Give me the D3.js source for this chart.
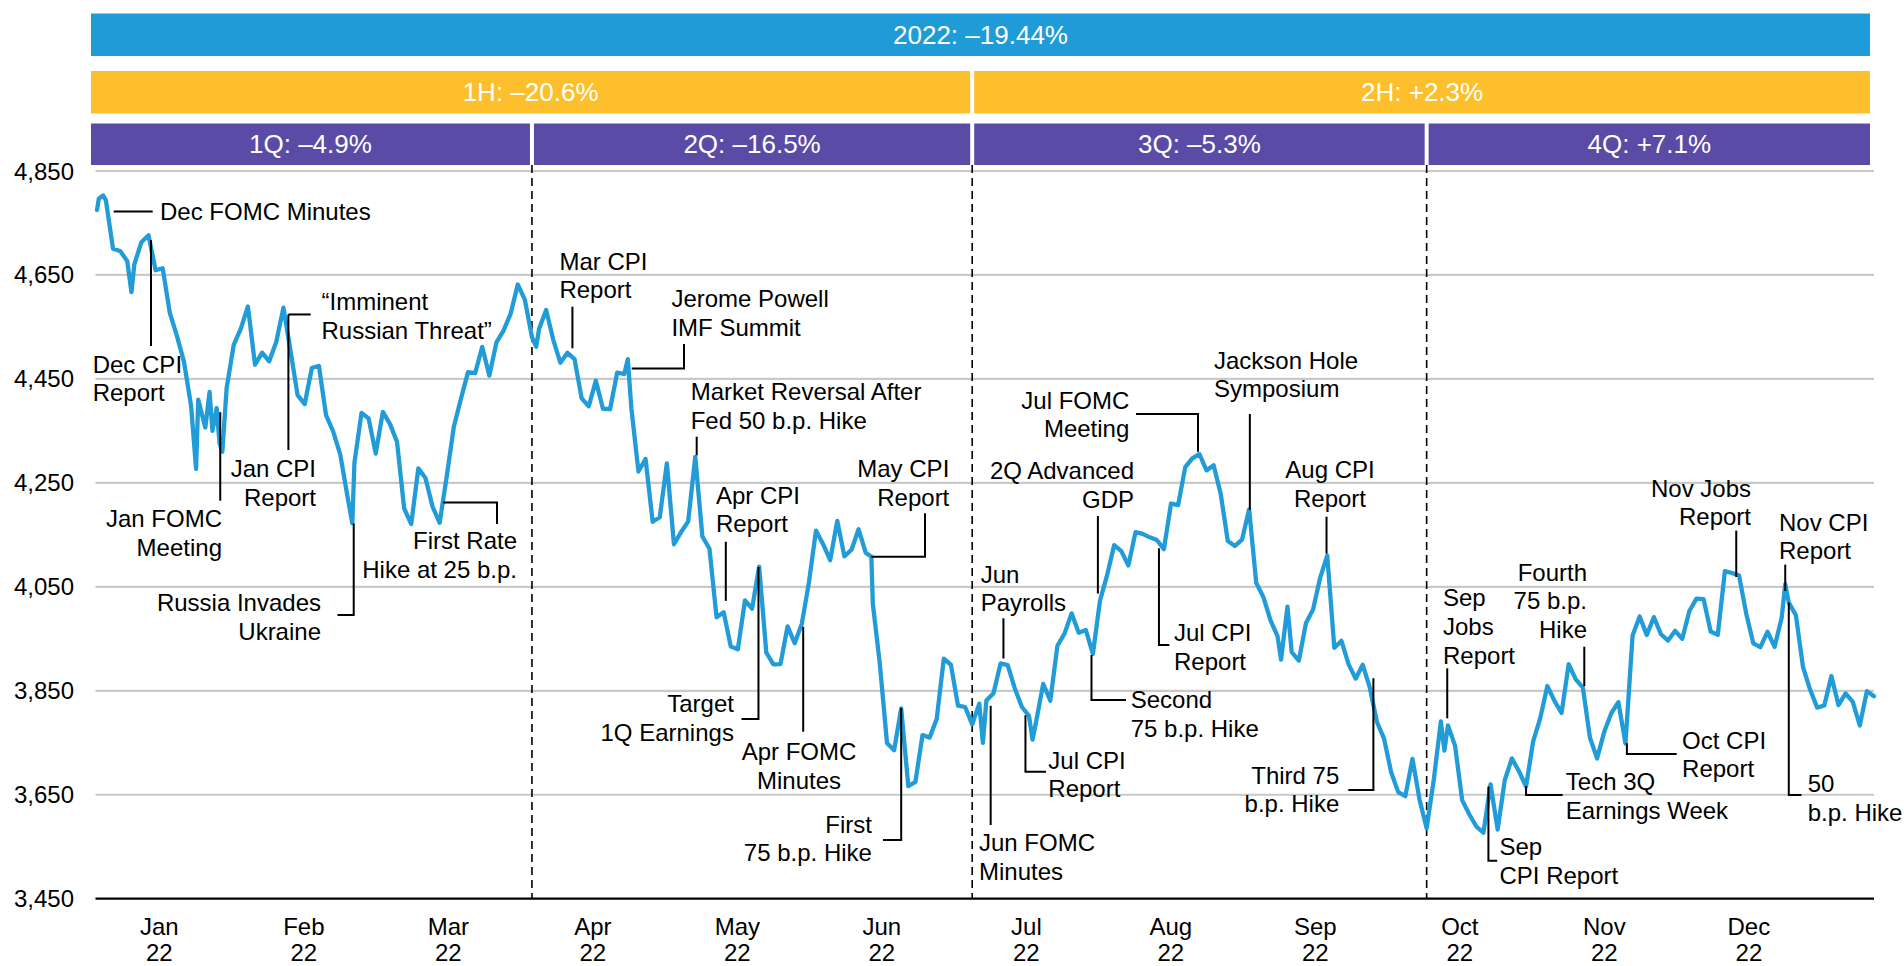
<!DOCTYPE html>
<html><head><meta charset="utf-8">
<script src="https://cdn.jsdelivr.net/npm/d3@7"></script>
<style>
html,body{margin:0;padding:0;background:#fff;}
svg{display:block;font-family:"Liberation Sans",Arial,sans-serif;}
</style></head><body>
<svg id="chart" width="1904" height="966"></svg>
<script>
// ---- S&P 500 values read per trading day (one array per month) ----
const spxJan = [4796.56,4793.54,4700.58,4696.05,4677.03,4670.29,4713.07,4726.35,4659.03,4662.85,4577.11,4532.76,4482.73,4397.94,4410.13,4356.45,4349.93,4326.51,4431.85,4515.55];
const spxFeb = [4546.54,4589.38,4477.44,4500.53,4483.87,4521.54,4587.18,4504.08,4418.64,4401.67,4471.07,4475.01,4380.26,4348.87,4304.76,4225.50,4288.70,4384.65,4373.94];
const spxMar = [4306.26,4386.54,4363.49,4328.87,4201.09,4170.70,4277.88,4259.52,4204.31,4173.11,4262.45,4357.86,4411.67,4463.12,4461.18,4511.61,4456.24,4520.16,4543.06,4575.52,4631.60,4602.45,4530.41];
const spxApr = [4545.86,4582.64,4525.12,4481.15,4500.21,4488.28,4412.53,4397.45,4446.59,4392.59,4391.69,4462.21,4459.45,4393.66,4271.78,4296.12,4175.20,4183.96,4287.50,4131.93];
const spxMay = [4155.38,4175.48,4300.17,4146.87,4123.34,3991.24,4001.05,3935.18,3930.08,4023.89,4008.01,4088.85,3923.68,3900.79,3901.36,3973.75,3941.48,3978.73,4057.84,4158.24,4132.15];
const spxJun = [4101.23,4176.82,4108.54,4121.43,4160.68,4115.77,4017.82,3900.86,3749.63,3735.48,3816.00,3666.77,3674.84,3764.79,3759.89,3795.73,3911.74,3900.11,3821.55,3818.83,3785.38];
const spxJul = [3825.33,3831.39,3845.08,3902.62,3899.38,3854.43,3818.80,3801.78,3790.38,3863.16,3830.85,3936.69,3959.90,3998.95,3961.63,3966.84,3921.05,4023.61,4072.43,4130.29];
const spxAug = [4118.63,4091.19,4155.17,4151.94,4145.19,4140.06,4122.47,4210.24,4207.27,4280.15,4297.14,4305.20,4274.04,4283.74,4228.48,4137.99,4128.73,4140.77,4199.12,4057.66,4030.61,3986.16,3955.00];
const spxSep = [3966.85,3924.26,3908.19,3979.87,4006.18,4067.36,4110.41,3932.69,3946.01,3901.35,3873.33,3899.89,3855.93,3789.93,3757.99,3693.23,3655.04,3647.29,3719.04,3640.47,3585.62];
const spxOct = [3678.43,3790.93,3783.28,3744.52,3639.66,3612.39,3588.84,3577.03,3669.91,3583.07,3677.95,3719.98,3695.16,3665.78,3752.75,3797.34,3859.11,3830.60,3807.30,3901.06,3871.98];
const spxNov = [3856.10,3759.69,3719.89,3770.55,3806.80,3828.11,3748.57,3956.37,3992.93,3957.25,3991.73,3958.79,3946.56,3965.34,3949.94,4003.58,4027.26,4026.12,3963.94,3957.63,4080.11];
const spxDec = [4076.57,4071.70,3998.84,3941.26,3933.92,3963.51,3934.38,3990.56,4019.65,3995.32,3895.75,3852.36,3817.66,3821.62,3878.44,3822.39,3844.82,3829.25,3783.22,3849.28,3839.50];

// intraday swings visible in the picture (position in trading days, value)
const intradayPos = [0.75, 1.6, 5.6, 14.7, 16.6, 17.6, 18.4, 36.7, 62.6, 75.5, 109.8, 125.5, 132.5, 167.5, 168.4, 190.5, 238.5];
const intradayVal = [4775, 4803, 4617, 4277, 4425, 4394, 4310, 4172, 4512, 4488, 4108, 3750, 3756, 3910, 4012, 3735, 4055];

// axis labels
const monthLabels = ["Jan","Feb","Mar","Apr","May","Jun","Jul","Aug","Sep","Oct","Nov","Dec"];
const yearLabel = "22";
const yTicks = [3450,3650,3850,4050,4250,4450,4650,4850];

// period summary bars
const yearBar = [{label:"2022: \u201319.44%", start:0, end:251}];
const halfBars = [{label:"1H: \u201320.6%", start:0, end:124},{label:"2H: +2.3%", start:124, end:251}];
const quarterBars = [{label:"1Q: \u20134.9%", start:0, end:62},{label:"2Q: \u201316.5%", start:62, end:124},{label:"3Q: \u20135.3%", start:124, end:188},{label:"4Q: +7.1%", start:188, end:251}];
const quarterEnds = [62, 124, 188];

// annotations: text, anchor on the line (trading-day position, value)
const annLabels = [
 ["Dec FOMC Minutes"],["Dec CPI","Report"],["\u201cImminent","Russian Threat\u201d"],["Jan CPI","Report"],
 ["Jan FOMC","Meeting"],["Russia Invades","Ukraine"],["First Rate","Hike at 25 b.p."],["Mar CPI","Report"],
 ["Jerome Powell","IMF Summit"],["Market Reversal After","Fed 50 b.p. Hike"],["Apr CPI","Report"],["Target","1Q Earnings"],
 ["Apr FOMC","Minutes"],["May CPI","Report"],["First","75 b.p. Hike"],["Jun","Payrolls"],
 ["Jun FOMC","Minutes"],["Jul CPI","Report"],["Second","75 b.p. Hike"],["2Q Advanced","GDP"],
 ["Jul FOMC","Meeting"],["Jackson Hole","Symposium"],["Jul CPI","Report"],["Aug CPI","Report"],
 ["Third 75","b.p. Hike"],["Sep","Jobs","Report"],["Sep","CPI Report"],["Fourth","75 b.p.","Hike"],
 ["Tech 3Q","Earnings Week"],["Oct CPI","Report"],["Nov Jobs","Report"],["Nov CPI","Report"],["50","b.p. Hike"]
];
const annPos = [3.1, 8.35, 27.7, 27.7, 18.1, 36.9, 49.5, 67.7, 76.05, 85.2, 89.3, 93.9, 100.2, 109.8, 114, 128.4, 126.6, 131.5, 140.8, 141.7, 155.8, 163.1, 150.3, 173.9, 180.5, 190.9, 196.7, 210.2, 202, 216.2, 231.6, 238.5, 239.0];
const annVal = [4772, 4717, 4574, 4574, 4386, 4172, 4212, 4509, 4470, 4303, 4023, 4088, 3973, 4108, 3817, 3912, 3821, 3803, 3919, 4037, 4310, 4198, 4124, 4114, 3874, 3797, 3666, 3859, 3667, 3749, 4069, 4042, 4020];

// annotation layout (text anchor, text x, first line centre y, leader steps)
const annLayout = [
 {a:"start", x:160, y:211.7, leg:[["h",152.7]]},
 {a:"start", x:92.7, y:364, leg:[["v",346]]},
 {a:"start", x:321.5, y:301.7, leg:[["h",310.7]]},
 {a:"end", x:316, y:468.3, leg:[["v",450]]},
 {a:"end", x:222, y:518.3, leg:[["v",500.7]]},
 {a:"end", x:321, y:602.3, leg:[["v",615],["h",337.5]]},
 {a:"end", x:517, y:540.7, leg:[["h",497],["v",524]]},
 {a:"start", x:559.4, y:261, leg:[["v",306.7]]},
 {a:"start", x:671.4, y:298.5, leg:[["h",684],["v",344]]},
 {a:"start", x:690.7, y:391.7, leg:[["v",436.7]]},
 {a:"start", x:716, y:495, leg:[["v",541.7]]},
 {a:"end", x:733.9, y:703.3, leg:[["v",719],["h",741.5]]},
 {a:"middle", x:799, y:751.7, leg:[["v",731.7]]},
 {a:"end", x:949.3, y:468.3, leg:[["h",925],["v",513.3]]},
 {a:"end", x:871.9, y:824, leg:[["v",840],["h",883]]},
 {a:"start", x:980.7, y:574, leg:[["v",618.3]]},
 {a:"start", x:979, y:842.3, leg:[["v",825]]},
 {a:"start", x:1048.3, y:760, leg:[["v",771.7],["h",1046]]},
 {a:"start", x:1130.7, y:699.3, leg:[["v",700],["h",1126]]},
 {a:"end", x:1134, y:470.7, leg:[["v",516]]},
 {a:"end", x:1129.3, y:400, leg:[["v",414],["h",1136]]},
 {a:"start", x:1214, y:360, leg:[["v",414]]},
 {a:"start", x:1174, y:632.7, leg:[["v",645],["h",1169.3]]},
 {a:"middle", x:1330, y:469.3, leg:[["v",516.7]]},
 {a:"end", x:1339.3, y:775, leg:[["v",790],["h",1348.3]]},
 {a:"start", x:1443, y:597.4, leg:[["v",668.3]]},
 {a:"start", x:1499.5, y:846.7, leg:[["v",860.7],["h",1497.2]]},
 {a:"end", x:1587, y:572, leg:[["v",646.7]]},
 {a:"start", x:1565.8, y:781.7, leg:[["v",795],["h",1562.7]]},
 {a:"start", x:1682.1, y:740, leg:[["v",754],["h",1676.7]]},
 {a:"end", x:1751, y:488, leg:[["v",530.6]]},
 {a:"start", x:1779, y:522, leg:[["v",564.6]]},
 {a:"start", x:1807.7, y:783.3, leg:[["v",795],["h",1801.5]]}
];

// ---- build ----
const closes = [].concat(spxJan,spxFeb,spxMar,spxApr,spxMay,spxJun,spxJul,spxAug,spxSep,spxOct,spxNov,spxDec);
const points = closes.map((v,i)=>({t:i+1, v}))
  .concat(intradayPos.map((t,i)=>({t, v:intradayVal[i]})))
  .sort((a,b)=>a.t-b.t);

const svg = d3.select("#chart");
const x = d3.scaleLinear().domain([0,251]).range([91.7,1874]);
const y = d3.scaleLinear().domain([3450,4850]).range([898.7,171]);
const gridX0 = 95.5, gridX1 = 1874;
const FS = 24, LH = 28.8;

// gridlines
svg.append("g").selectAll("line").data(yTicks.filter(d=>d!==3450)).join("line")
  .attr("x1",gridX0).attr("x2",gridX1).attr("y1",d=>y(d)).attr("y2",d=>y(d))
  .attr("stroke","#c9c9c9").attr("stroke-width",2.2);

// y axis labels
svg.append("g").selectAll("text").data(yTicks).join("text")
  .attr("x",74).attr("y",d=>y(d)+8.5).attr("text-anchor","end")
  .attr("font-size",FS).attr("fill","#000").text(d=>d3.format(",")(d));

// x labels
const labelT0 = 9.53, labelStep = 20.35;
const xl = svg.append("g").selectAll("g").data(monthLabels).join("g");
xl.append("text").attr("x",(d,i)=>x(labelT0+labelStep*i)).attr("y",934.5)
  .attr("text-anchor","middle").attr("font-size",FS).text(d=>d);
xl.append("text").attr("x",(d,i)=>x(labelT0+labelStep*i)).attr("y",960.5)
  .attr("text-anchor","middle").attr("font-size",FS).text(yearLabel);

// summary bars
function drawBars(data, top, h, color){
  const g = svg.append("g");
  const x0 = d => d.start===0 ? 91 : x(d.start)+2;
  const x1 = d => d.end===251 ? 1870 : x(d.end)-2;
  g.selectAll("rect").data(data).join("rect")
    .attr("x",x0).attr("y",top).attr("width",d=>x1(d)-x0(d)).attr("height",h).attr("fill",color);
  g.selectAll("text").data(data).join("text")
    .attr("x",d=>(x0(d)+x1(d))/2).attr("y",top+h/2+9.2).attr("text-anchor","middle")
    .attr("font-size",26).attr("fill","#fff").text(d=>d.label);
}
drawBars(yearBar, 13.5, 42.5, "#1f9bd7");
drawBars(halfBars, 71, 42.5, "#fdbf2b");
drawBars(quarterBars, 123.5, 41.5, "#5a4ba6");

// quarter dashed separators
svg.append("g").selectAll("line").data(quarterEnds).join("line")
  .attr("x1",d=>x(d)).attr("x2",d=>x(d)).attr("y1",165).attr("y2",898.7)
  .attr("stroke","#000").attr("stroke-width",1.6).attr("stroke-dasharray","8,5");

// baseline
svg.append("line").attr("x1",gridX0).attr("x2",gridX1).attr("y1",y(3450)).attr("y2",y(3450))
  .attr("stroke","#000").attr("stroke-width",2.2);

// index line
svg.append("path").datum(points)
  .attr("d", d3.line().x(d=>x(d.t)).y(d=>y(d.v)))
  .attr("fill","none").attr("stroke","#219cd8").attr("stroke-width",4.3)
  .attr("stroke-linejoin","round").attr("stroke-linecap","round");

// annotations
annLabels.forEach((lines,i)=>{
  const L = annLayout[i];
  let cx = x(annPos[i]), cy = y(annVal[i]);
  let dstr = `M${cx},${cy}`;
  L.leg.forEach(([k,val])=>{ if(k==="h") cx = val; else cy = val; dstr += `L${cx},${cy}`; });
  svg.append("path").attr("d",dstr).attr("fill","none").attr("stroke","#000").attr("stroke-width",2);
  const t = svg.append("text").attr("text-anchor",L.a).attr("font-size",FS).attr("fill","#000");
  lines.forEach((s,j)=>t.append("tspan").attr("x",L.x).attr("y",L.y+j*LH+8.5).text(s));
});
</script>
</body></html>
